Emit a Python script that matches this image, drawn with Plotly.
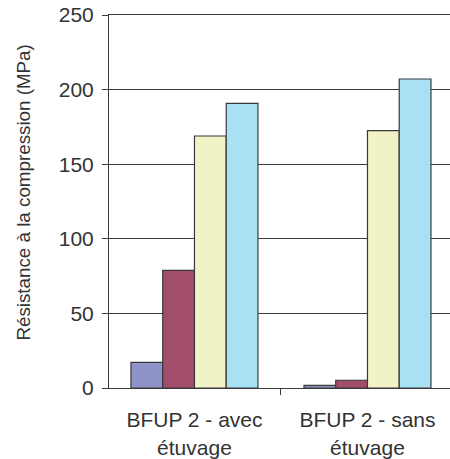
import plotly.graph_objects as go

categories = ["BFUP 2 - avec<br>étuvage", "BFUP 2 - sans<br>étuvage"]
series_names = ["Série 1", "Série 2", "Série 3", "Série 4"]
series_values = [
    [17.2, 1.8],
    [78.9, 5.2],
    [168.9, 172.5],
    [190.8, 207.1],
]
colors = ["#8f94c8", "#a34d6d", "#f1f2c6", "#a8e1f4"]
y_ticks = [0, 50, 100, 150, 200, 250]
y_title = "Résistance à la compression (MPa)"

fig = go.Figure()
for name, vals, c in zip(series_names, series_values, colors):
    fig.add_trace(go.Bar(
        x=categories, y=vals, name=name,
        marker=dict(color=c, line=dict(color="#3a3a3a", width=1.2)),
    ))

fig.update_layout(
    width=450, height=459,
    margin=dict(l=109, r=0, t=15, b=71, autoexpand=False),
    paper_bgcolor="white", plot_bgcolor="white",
    barmode="group", bargap=0.266, bargroupgap=0,
    showlegend=False,
    font=dict(family="Liberation Sans, Arial, sans-serif", color="#333333"),
)
fig.update_xaxes(
    range=[-0.494, 1.477], automargin=False,
    showgrid=False, zeroline=False,
    showline=True, mirror=True, linecolor="#3a3a3a", linewidth=1,
    ticks="outside", tickson="boundaries", ticklen=6, tickcolor="#3a3a3a", tickwidth=1,
    ticklabelstandoff=13,
    tickfont=dict(size=21, color="#333333"),
)
fig.update_yaxes(
    range=[0, 250], tickvals=y_ticks, automargin=False,
    showgrid=True, gridcolor="#3a3a3a", gridwidth=1,
    showline=True, linecolor="#3a3a3a", linewidth=1,
    zeroline=True, zerolinecolor="#3a3a3a", zerolinewidth=1,
    ticks="outside", ticklen=6, tickcolor="#3a3a3a",
    ticklabelstandoff=4,
    tickfont=dict(size=21, color="#333333"),
)
fig.add_annotation(
    text=y_title, textangle=-90, showarrow=False,
    xref="paper", yref="paper", x=-0.252, y=0.524,
    xanchor="center", yanchor="middle",
    font=dict(size=18.8, color="#333333"),
)

# remove the default 8px page margin so the 450x459 figure fills the window exactly
fig.write_html(
    "out.html",
    config={"displayModeBar": False},
    post_script="document.body.style.margin='0';",
)
